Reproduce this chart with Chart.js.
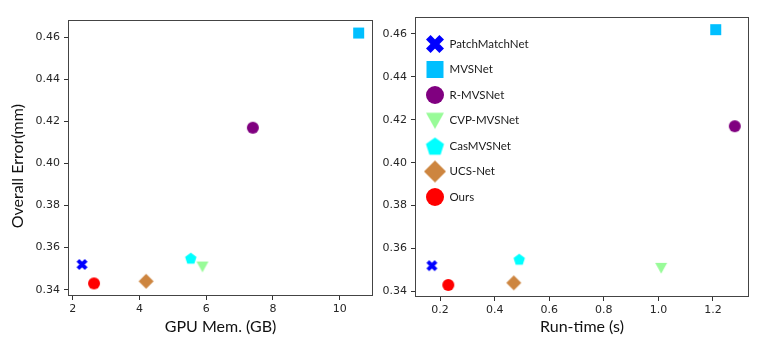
<!DOCTYPE html>
<html><head><meta charset="utf-8">
<script src="https://cdn.jsdelivr.net/npm/chart.js@4.4.1/dist/chart.umd.min.js"></script>
<style>
html,body{margin:0;padding:0;background:#fff;}
#wrap{position:relative;width:765px;height:339px;overflow:hidden;background:#fff;}
canvas{position:absolute;top:0;}
</style></head><body>
<div id="wrap">
<canvas id="c1" width="380" height="339" style="left:0px"></canvas>
<canvas id="c2" width="385" height="339" style="left:380px"></canvas>
</div>
<script>
// ---- data ----
const methods = ['PatchMatchNet', 'MVSNet', 'R-MVSNet', 'CVP-MVSNet', 'CasMVSNet', 'UCS-Net', 'Ours'];
const gpuMem = [2.28, 10.57, 7.40, 5.89, 5.54, 4.20, 2.64];
const runTime = [0.17, 1.21, 1.28, 1.01, 0.49, 0.47, 0.23];
const overallError = [0.352, 0.462, 0.417, 0.351, 0.355, 0.344, 0.343];
const gpuTicks = [2, 4, 6, 8, 10];
const runTimeTicks = [0.2, 0.4, 0.6, 0.8, 1.0, 1.2];
const errorTicks = [0.34, 0.36, 0.38, 0.40, 0.42, 0.44, 0.46];

// ---- styles ----
const markerStyles = [
  {shape: 'X', color: '#0000ff', size: 11, legendSize: 18},
  {shape: 'square', color: '#00bfff', size: 11, legendSize: 17},
  {shape: 'circle', color: '#800080', size: 12, legendSize: 18},
  {shape: 'tridown', color: '#98fb98', size: 12, legendSize: 18},
  {shape: 'pentagon', color: '#00ffff', size: 12, legendSize: 19},
  {shape: 'diamond', color: '#cd853f', size: 15, legendSize: 22},
  {shape: 'circle', color: '#ff0000', size: 12, legendSize: 18}
];

function makeMarker(shape, size, color) {
  const pad = 2, dim = Math.ceil(size) + pad * 2;
  const c = document.createElement('canvas');
  c.width = dim; c.height = dim;
  const ctx = c.getContext('2d');
  const cx = dim / 2, cy = dim / 2, r = size / 2;
  ctx.fillStyle = color; ctx.strokeStyle = color;
  ctx.beginPath();
  switch (shape) {
    case 'X': {
      const t = size * 0.36;
      const d = r - t / (2 * Math.SQRT2);
      ctx.lineWidth = t; ctx.lineCap = 'butt';
      ctx.moveTo(cx - d, cy - d); ctx.lineTo(cx + d, cy + d);
      ctx.moveTo(cx + d, cy - d); ctx.lineTo(cx - d, cy + d);
      ctx.stroke();
      return c;
    }
    case 'square': ctx.rect(cx - r, cy - r, size, size); break;
    case 'circle': ctx.arc(cx, cy, r, 0, Math.PI * 2); break;
    case 'tridown':
      ctx.moveTo(cx - r, cy - r * 0.85); ctx.lineTo(cx + r, cy - r * 0.85);
      ctx.lineTo(cx, cy + r * 0.95); ctx.closePath(); break;
    case 'pentagon':
      for (let i = 0; i < 5; i++) {
        const a = -Math.PI / 2 + i * 2 * Math.PI / 5;
        const x = cx + r * Math.cos(a), y = cy + r * 0.1 + r * Math.sin(a);
        if (i) ctx.lineTo(x, y); else ctx.moveTo(x, y);
      }
      ctx.closePath(); break;
    case 'diamond':
      ctx.moveTo(cx, cy - r); ctx.lineTo(cx + r, cy);
      ctx.lineTo(cx, cy + r); ctx.lineTo(cx - r, cy); ctx.closePath(); break;
  }
  ctx.fill();
  return c;
}

const plotMarkers = markerStyles.map(s => makeMarker(s.shape, s.size, s.color));
const legendMarkers = markerStyles.map(s => makeMarker(s.shape, s.legendSize, s.color));

const framePlugin = {
  id: 'frame',
  afterDraw(chart) {
    const {ctx, chartArea: a} = chart;
    ctx.save();
    ctx.strokeStyle = '#444444';
    ctx.lineWidth = 1;
    ctx.strokeRect(Math.round(a.left) + 0.5, Math.round(a.top) + 0.5,
      Math.round(a.right - a.left) - 1, Math.round(a.bottom - a.top) - 1);
    ctx.restore();
  }
};

const legendPlugin = {
  id: 'innerLegend',
  afterDatasetsDraw(chart) {
    const {ctx, chartArea: a} = chart;
    ctx.save();
    ctx.font = '11.5px Lato';
    ctx.fillStyle = '#1a1a1a';
    ctx.textBaseline = 'middle';
    ctx.textAlign = 'left';
    methods.forEach((m, i) => {
      const y = a.top + 27 + i * 25.5;
      const img = legendMarkers[i];
      ctx.drawImage(img, a.left + 20 - img.width / 2, y - img.height / 2);
      ctx.fillText(m, a.left + 34.5, y);
    });
    ctx.restore();
  }
};

function makeDatasets(xs) {
  return methods.map((m, i) => ({
    label: m,
    data: [{x: xs[i], y: overallError[i]}],
    pointStyle: plotMarkers[i],
    pointRadius: 6,
    pointHoverRadius: 6,
    showLine: false
  }));
}

const tickFont = {family: 'DejaVu Sans', size: 11};
const titleFont = {family: 'Lato', size: 16};

function buildChart(id, xs, xTicks, xDec, xTitle, xRange, yRange, geom, showYTitle, plugins) {
  new Chart(document.getElementById(id), {
    type: 'scatter',
    data: {datasets: makeDatasets(xs)},
    options: {
      responsive: false,
      animation: false,
      events: [],
      layout: {padding: {top: geom.top, right: geom.right, bottom: 0, left: 0}},
      plugins: {legend: {display: false}, tooltip: {enabled: false}},
      scales: {
        x: {
          type: 'linear', min: xRange[0], max: xRange[1],
          afterBuildTicks: s => { s.ticks = xTicks.map(v => ({value: v})); },
          afterFit: s => { s.height = geom.xh; },
          border: {display: false},
          grid: {drawOnChartArea: false, drawTicks: true, tickLength: 4, color: '#333'},
          ticks: {font: tickFont, color: '#262626', padding: 3, maxRotation: 0, autoSkip: false,
                  callback: v => Number(v).toFixed(xDec)},
          title: {display: true, text: xTitle, font: titleFont, color: '#111',
                  padding: {top: 0, bottom: 3}}
        },
        y: {
          type: 'linear', min: yRange[0], max: yRange[1],
          afterBuildTicks: s => { s.ticks = errorTicks.map(v => ({value: v})); },
          afterFit: s => { s.width = geom.yw; },
          border: {display: false},
          grid: {drawOnChartArea: false, drawTicks: true, tickLength: 4, color: '#333'},
          ticks: {font: tickFont, color: '#262626', padding: 4, autoSkip: false,
                  callback: v => Number(v).toFixed(2)},
          title: {display: showYTitle, text: 'Overall Error(mm)    ', font: titleFont, color: '#111',
                  padding: {top: 8, bottom: 0}}
        }
      }
    },
    plugins: plugins
  });
}

buildChart('c1', gpuMem, gpuTicks, 0, 'GPU Mem. (GB)', [1.86, 11.0], [0.337, 0.4682],
  {top: 20, right: 3, xh: 43, yw: 68}, true, [framePlugin]);
buildChart('c2', runTime, runTimeTicks, 1, 'Run-time (s)', [0.108, 1.332], [0.3374, 0.4679],
  {top: 17, right: 16, xh: 42, yw: 35}, false, [framePlugin, legendPlugin]);
</script>
</body></html>
